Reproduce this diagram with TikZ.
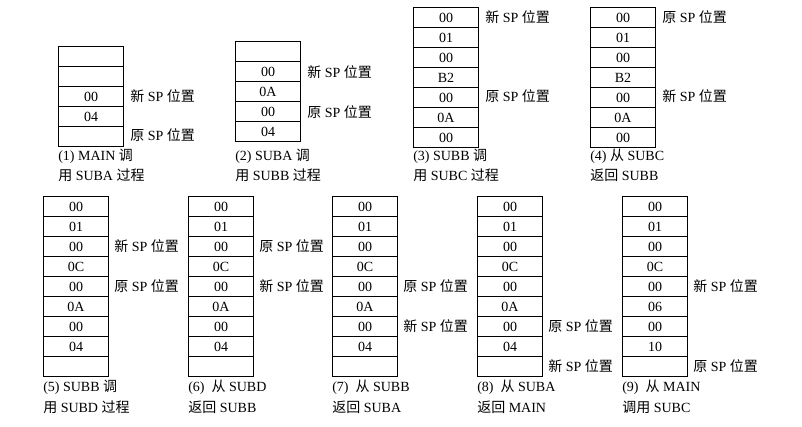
\documentclass[tikz,border=0pt]{standalone}
\usepackage{fontspec}
\setmainfont{Liberation Serif}
\newfontfamily\cjk{Noto Sans CJK SC}
\begin{document}
\begin{tikzpicture}[x=0.75pt,y=-0.75pt,
  cell/.style={draw,line width=0.8pt,minimum width=48.75pt,minimum height=15pt,inner sep=0pt,anchor=north west,font=\fontsize{10.5}{12}\selectfont},
  lbl/.style={anchor=west,inner sep=0pt,font=\fontsize{10.5}{12}\selectfont},
  captxt/.style={anchor=west,inner sep=0pt,font=\fontsize{10.5}{12}\selectfont}]
\useasboundingbox (0,0) rectangle (802,426);
\newcommand{\mystack}[4]{% name, x, ytop, list
  \foreach \v [count=\k from 0] in {#4} {
    \node[cell] (#1-\k) at (#2,#3+\k*20) {\raisebox{-2pt}{\v}};
  }}
\mystack{a}{58}{46}{{},{},00,04,{}}
\node[lbl] (a1) at (130,96) {{\cjk 新} SP {\cjk 位置}};
\node[lbl] (a2) at (130,135) {{\cjk 原} SP {\cjk 位置}};
\node[captxt] (ac1) at (58,156) {(1) MAIN {\cjk 调}};
\node[captxt] (ac2) at (58,175) {{\cjk 用} SUBA {\cjk 过程}};

\mystack{b}{235}{41}{{},00,0A,00,04}
\node[lbl] (b1) at (307,72) {{\cjk 新} SP {\cjk 位置}};
\node[lbl] (b2) at (307,112) {{\cjk 原} SP {\cjk 位置}};
\node[captxt] (bc1) at (235,156) {(2) SUBA {\cjk 调}};
\node[captxt] (bc2) at (235,175) {{\cjk 用} SUBB {\cjk 过程}};

\mystack{c}{413}{7}{00,01,00,B2,00,0A,00}
\node[lbl] (c1) at (485,17) {{\cjk 新} SP {\cjk 位置}};
\node[lbl] (c2) at (485,96) {{\cjk 原} SP {\cjk 位置}};
\node[captxt] (cc1) at (413,156) {(3) SUBB {\cjk 调}};
\node[captxt] (cc2) at (413,175) {{\cjk 用} SUBC {\cjk 过程}};

\mystack{d}{590}{7}{00,01,00,B2,00,0A,00}
\node[lbl] (d1) at (662,17) {{\cjk 原} SP {\cjk 位置}};
\node[lbl] (d2) at (662,96) {{\cjk 新} SP {\cjk 位置}};
\node[captxt] (dc1) at (590,156) {(4) {\cjk 从} SUBC};
\node[captxt] (dc2) at (590,175) {{\cjk 返回} SUBB};

\mystack{e}{43}{196}{00,01,00,0C,00,0A,00,04,{}}
\node[lbl] (e1) at (114,246) {{\cjk 新} SP {\cjk 位置}};
\node[lbl] (e2) at (114,286) {{\cjk 原} SP {\cjk 位置}};
\node[captxt] (ec1) at (43,387) {(5) SUBB {\cjk 调}};
\node[captxt] (ec2) at (43,407) {{\cjk 用} SUBD {\cjk 过程}};

\mystack{f}{188}{196}{00,01,00,0C,00,0A,00,04,{}}
\node[lbl] (f1) at (259,246) {{\cjk 原} SP {\cjk 位置}};
\node[lbl] (f2) at (259,286) {{\cjk 新} SP {\cjk 位置}};
\node[captxt] (fc1) at (188,387) {(6)\ \ {\cjk 从} SUBD};
\node[captxt] (fc2) at (188,407) {{\cjk 返回} SUBB};

\mystack{g}{332}{196}{00,01,00,0C,00,0A,00,04,{}}
\node[lbl] (g1) at (403,286) {{\cjk 原} SP {\cjk 位置}};
\node[lbl] (g2) at (403,326) {{\cjk 新} SP {\cjk 位置}};
\node[captxt] (gc1) at (332,387) {(7)\ \ {\cjk 从} SUBB};
\node[captxt] (gc2) at (332,407) {{\cjk 返回} SUBA};

\mystack{h}{477}{196}{00,01,00,0C,00,0A,00,04,{}}
\node[lbl] (h1) at (548,326) {{\cjk 原} SP {\cjk 位置}};
\node[lbl] (h2) at (548,366) {{\cjk 新} SP {\cjk 位置}};
\node[captxt] (hc1) at (477,387) {(8)\ \ {\cjk 从} SUBA};
\node[captxt] (hc2) at (477,407) {{\cjk 返回} MAIN};

\mystack{i}{622}{196}{00,01,00,0C,00,06,00,10,{}}
\node[lbl] (i1) at (693,286) {{\cjk 新} SP {\cjk 位置}};
\node[lbl] (i2) at (693,366) {{\cjk 原} SP {\cjk 位置}};
\node[captxt] (ic1) at (622,387) {(9)\ \ {\cjk 从} MAIN};
\node[captxt] (ic2) at (622,407) {{\cjk 调用} SUBC};
\end{tikzpicture}
\end{document}
